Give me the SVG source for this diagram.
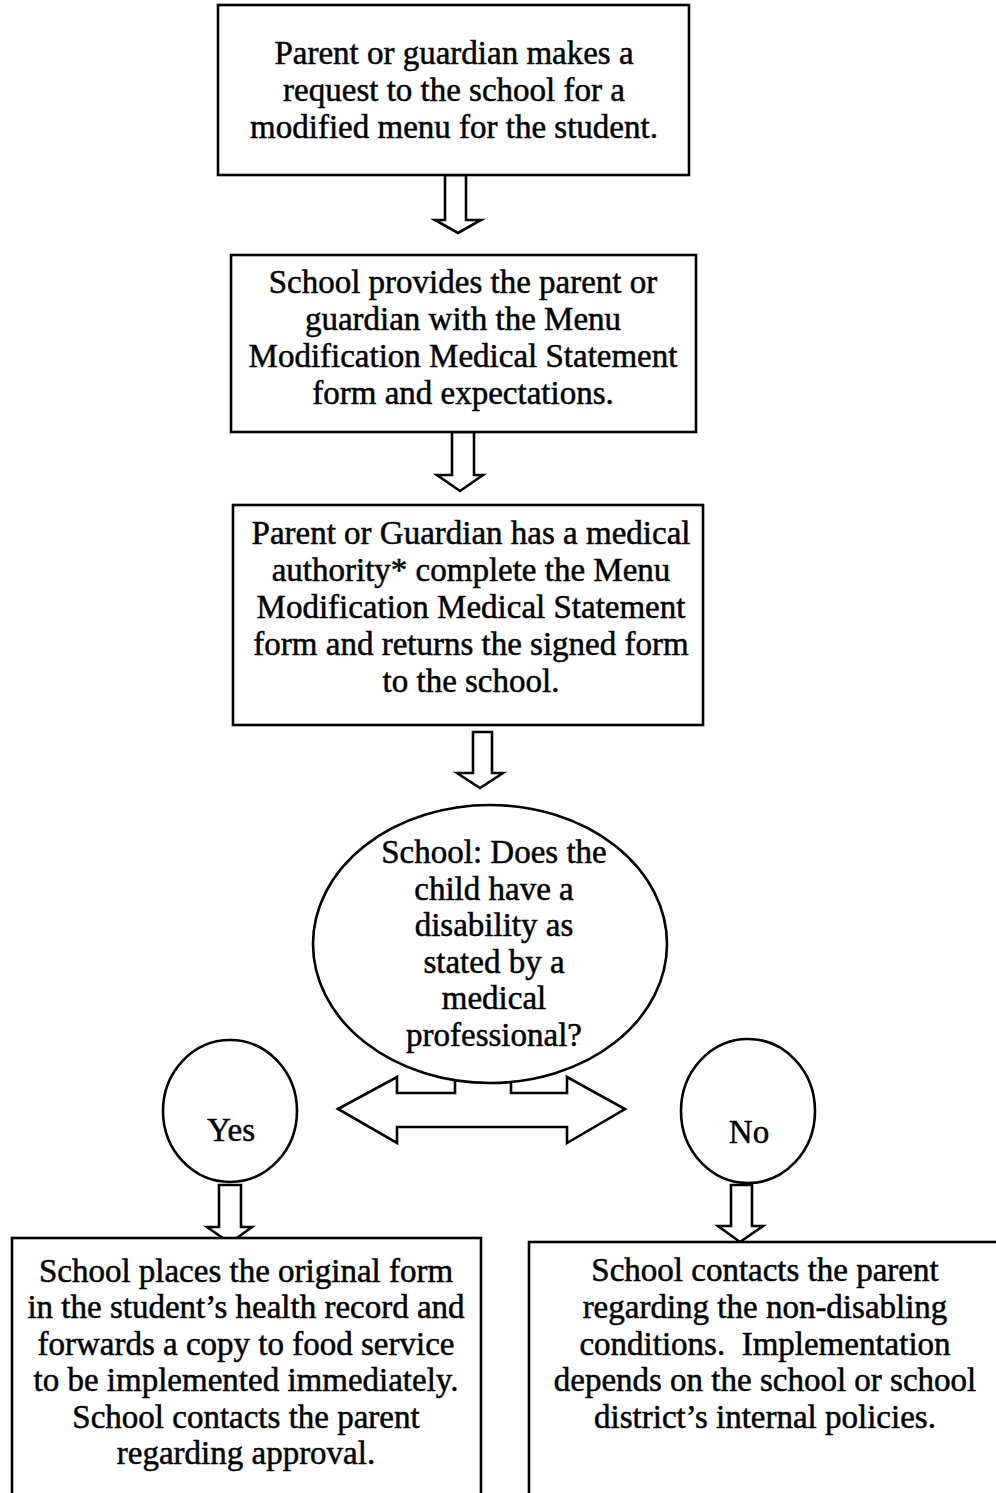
<svg xmlns="http://www.w3.org/2000/svg" width="996" height="1493" viewBox="0 0 996 1493">
<style>
.box{fill:#fff;stroke:#000;stroke-width:2.6}
.arr{fill:#fff;stroke:#000;stroke-width:2.6;stroke-linejoin:miter}
text{font-family:"Liberation Serif","Times New Roman",serif;font-size:33px;fill:#000;stroke:#000;stroke-width:0.5;text-anchor:middle}
</style>
<rect width="996" height="1493" fill="#fff"/>
<g id="connectors">
<path class="arr" d="M445,175 V220 H435 L458,233 L481,220 H466 V175 Z"/>
<path class="arr" d="M452,432 V475 H437 L460,491 L483,475 H474 V432 Z"/>
<path class="arr" d="M473,732 V773 H457 L480,788 L503,773 H492 V732 Z"/>
<path class="arr" d="M338,1109 L397,1077 V1093 H455 V1070 H511 V1093 H567 V1077 L625,1109 L567,1143 V1127 H397 V1143 Z"/>
<path class="arr" d="M219,1185 V1227 H207 L230,1243 L252,1227 H241 V1185 Z"/>
<path class="arr" d="M731,1185 V1226 H718 L740,1242 L763,1226 H752 V1185 Z"/>
</g>
<g id="n1">
<rect class="box" x="218" y="5" width="471" height="170"/>
<text x="454" y="64">Parent or guardian makes a</text>
<text x="454" y="101">request to the school for a</text>
<text x="454" y="138">modified menu for the student.</text>
</g>
<g id="n2">
<rect class="box" x="231" y="255" width="465" height="177"/>
<text x="463" y="293">School provides the parent or</text>
<text x="463" y="330">guardian with the Menu</text>
<text x="463" y="367">Modification Medical Statement</text>
<text x="463" y="404">form and expectations.</text>
</g>
<g id="n3">
<rect class="box" x="233" y="505" width="470" height="220"/>
<text x="471" y="544">Parent or Guardian has a medical</text>
<text x="471" y="581">authority* complete the Menu</text>
<text x="471" y="618">Modification Medical Statement</text>
<text x="471" y="655">form and returns the signed form</text>
<text x="471" y="692">to the school.</text>
</g>
<g id="decision">
<ellipse class="box" cx="490" cy="944" rx="177" ry="139"/>
<text x="494" y="863">School: Does the</text>
<text x="494" y="900">child have a</text>
<text x="494" y="936">disability as</text>
<text x="494" y="973">stated by a</text>
<text x="494" y="1009">medical</text>
<text x="494" y="1046">professional?</text>
</g>
<g id="yes">
<ellipse class="box" cx="230" cy="1111" rx="67" ry="71"/>
<text x="231" y="1141">Yes</text>
</g>
<g id="no">
<ellipse class="box" cx="748" cy="1111" rx="67" ry="72"/>
<text x="749" y="1143">No</text>
</g>
<g id="yes-result">
<rect class="box" x="12" y="1238" width="469" height="275"/>
<text x="246" y="1282">School places the original form</text>
<text x="246" y="1318">in the student’s health record and</text>
<text x="246" y="1355">forwards a copy to food service</text>
<text x="246" y="1391">to be implemented immediately.</text>
<text x="246" y="1428">School contacts the parent</text>
<text x="246" y="1464">regarding approval.</text>
</g>
<g id="no-result">
<rect class="box" x="529" y="1242" width="480" height="275"/>
<text x="765" y="1281">School contacts the parent</text>
<text x="765" y="1318">regarding the non-disabling</text>
<text x="765" y="1355">conditions.&#160; Implementation</text>
<text x="765" y="1391">depends on the school or school</text>
<text x="765" y="1428">district’s internal policies.</text>
</g>
</svg>
